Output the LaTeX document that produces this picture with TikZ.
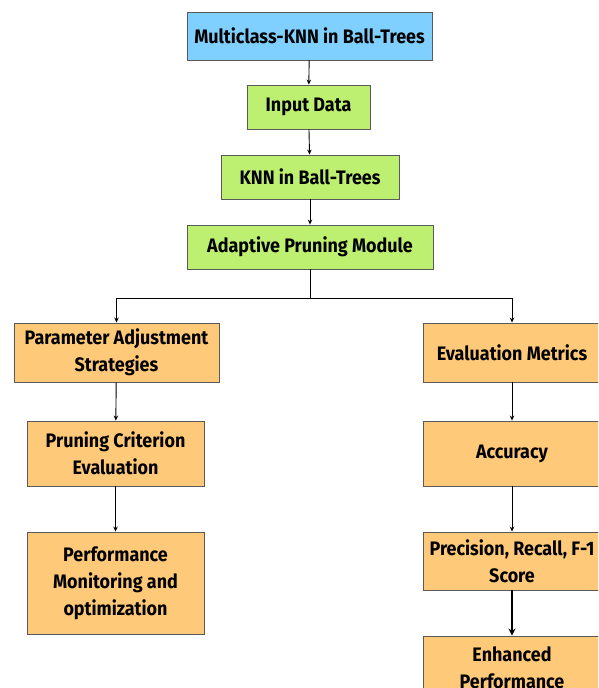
\documentclass[tikz,border=0pt]{standalone}
\usepackage{fontspec}
\setmainfont{Fira Sans}[FakeStretch=0.92]
\usepackage{tikz}
\usetikzlibrary{arrows.meta}

\definecolor{headblue}{HTML}{80D0FF}
\definecolor{stepgreen}{HTML}{BDF070}
\definecolor{partorange}{HTML}{FFC97A}
\definecolor{boxline}{HTML}{5A5A5A}

\begin{document}
\begin{tikzpicture}[x=1pt, y=-1pt,
        box/.style={draw=boxline, line width=0.9pt, align=center, inner sep=0pt,
                font=\fontsize{19.5}{27}\selectfont\bfseries},
        flow/.style={-{Stealth[length=5pt,width=4.5pt]}, line width=0.9pt}]
        \useasboundingbox (0,0) rectangle (598,688);
        \clip (0,0) rectangle (598,688);

        \node[box, fill=headblue, minimum width=245pt, minimum height=48pt] (head) at (309.5,36) {Multiclass-KNN in Ball-Trees};
        \node[box, fill=stepgreen, minimum width=123pt, minimum height=44pt] (input) at (308.5,107) {Input Data};
        \node[box, fill=stepgreen, minimum width=178pt, minimum height=44pt] (knn) at (310,177) {KNN in Ball-Trees};
        \node[box, fill=stepgreen, minimum width=246pt, minimum height=44pt] (prune) at (310,247) {Adaptive Pruning Module};

        \node[box, fill=partorange, minimum width=205pt, minimum height=59pt] (adjust) at (116.5,352.5) {Parameter Adjustment\\Strategies};
        \node[box, fill=partorange, minimum width=177pt, minimum height=65pt] (crit) at (115.5,453.5) {Pruning Criterion\\Evaluation};
        \node[box, fill=partorange, minimum width=177pt, minimum height=102pt] (monitor) at (115.5,583) {Performance\\Monitoring and\\optimization};

        \node[box, fill=partorange, minimum width=178pt, minimum height=59pt] (metrics) at (512,352.5) {Evaluation Metrics};
        \node[box, fill=partorange, minimum width=178pt, minimum height=65pt] (acc) at (512,453.5) {Accuracy};
        \node[box, fill=partorange, minimum width=178pt, minimum height=58pt] (prf) at (512,561) {Precision, Recall, F-1\\Score};
        \node[box, fill=partorange, minimum width=178pt, minimum height=100pt] (gain) at (512,686) {Enhanced\\Performance\\[10pt] };

        \coordinate (split) at (310,298);

        \draw[flow] (head) -- (input);
        \draw[flow] (input) -- (knn);
        \draw[flow] (knn) -- (prune);
        \draw[line width=0.9pt] (prune) -- (split);
        \draw[flow] (split) -| (adjust.north);
        \draw[flow] (split) -| (metrics.north);
        \draw[flow] (adjust) -- (crit);
        \draw[flow] (crit) -- (monitor);
        \draw[flow] (metrics) -- (acc);
        \draw[flow] (acc) -- (prf);
        \draw[-{Stealth[length=7pt,width=7pt]}, line width=2pt] (prf) -- (gain);
\end{tikzpicture}
\end{document}
